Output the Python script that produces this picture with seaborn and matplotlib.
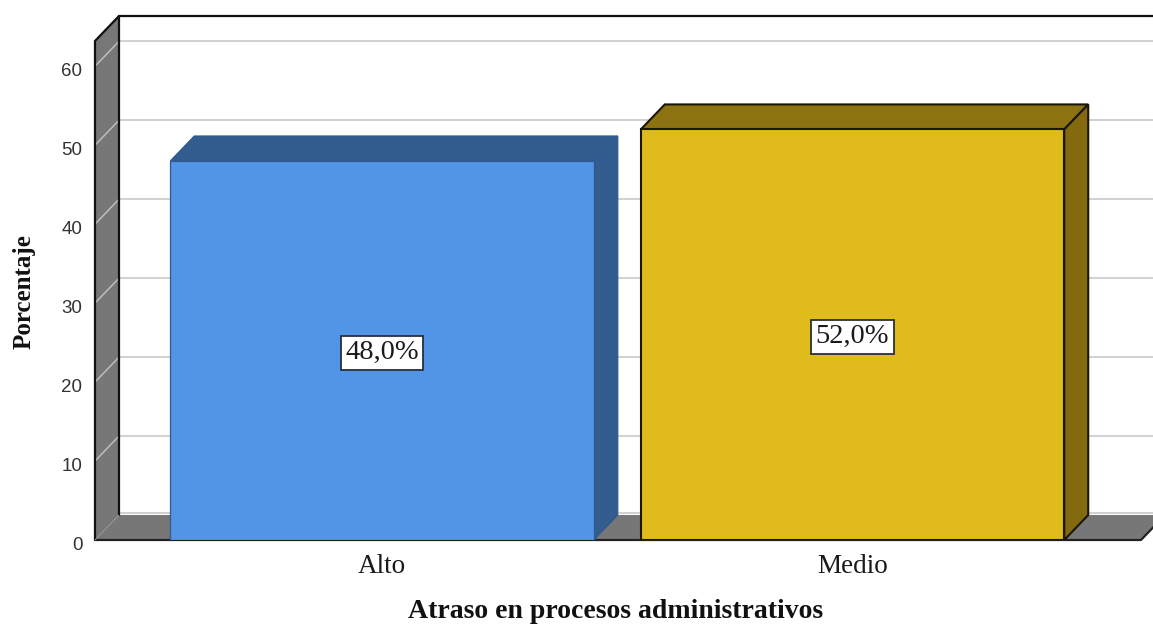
import matplotlib
matplotlib.use("Agg")
import matplotlib.pyplot as plt
from matplotlib.patches import Polygon
from matplotlib.transforms import ScaledTranslation
import pandas as pd
import seaborn as sns

categories = ["Alto", "Medio"]
percentages = [48.0, 52.0]
value_labels = ["48,0%", "52,0%"]
y_ticks = [0, 10, 20, 30, 40, 50, 60]

front_colors = ["#5294E6", "#E0BB1C"]
top_colors = ["#335C8F", "#8C7210"]
side_colors = ["#335C8F", "#836A0F"]
edge_colors = ["#2F5A90", "#1A1608"]
WALL = "#777777"
GRID = "#D2D2D2"

sns.set_theme(style="white")
plt.rcParams["font.family"] = ["Liberation Serif", "DejaVu Serif"]

W, H = 1153, 625
fig = plt.figure(figsize=(W / 100, H / 100), dpi=100, facecolor="white")
ax = fig.add_axes([95 / W, (H - 540) / H, (W - 95) / W, (540 - 16) / H])

df = pd.DataFrame({"nivel": categories, "porcentaje": percentages})
sns.barplot(data=df, x="nivel", y="porcentaje", hue="nivel", palette=front_colors,
            width=0.9, legend=False, saturation=1, ax=ax)
bars = list(ax.patches)

# Scales: 470.5 px per category, 7.9 px per percentage point
x_left = (95 - 382) / 470.5
x_right = (W - 382) / 470.5
x_floor_end = (1141 - 382) / 470.5
y_front_top = 63.2
dx = 24 / 470.5
dy = 25 / 7.9
ax.set_xlim(x_left, x_right)
ax.set_ylim(0, y_front_top + dy)


def face(points, color, edge="none", lw=0, z=1.0):
    ax.add_patch(Polygon(points, closed=True, facecolor=color, edgecolor=edge,
                         linewidth=lw, zorder=z, clip_on=False, joinstyle="miter"))


# Side wall and floor of the 3D box
face([(x_left, 0), (x_left, y_front_top), (x_left + dx, y_front_top + dy), (x_left + dx, dy)], WALL)
face([(x_left, 0), (x_left + dx, dy), (x_floor_end + dx, dy), (x_floor_end, 0)], WALL)

# Gridlines on the back wall and the side wall
for t in y_ticks[1:]:
    ax.plot([x_left + dx, x_right], [t + dy, t + dy], color=GRID, lw=1.5, zorder=0.8, clip_on=False)
    ax.plot([x_left, x_left + dx], [t, t + dy], color="#BDBDBD", lw=1.1, zorder=1.1, clip_on=False)
ax.plot([x_left + dx, x_right], [dy + 0.25, dy + 0.25], color=GRID, lw=1.5, zorder=0.9)

# Box outlines
ax.plot([x_left, x_left, x_left + dx, x_right], [0, y_front_top, y_front_top + dy, y_front_top + dy],
        color="#111111", lw=1.6, zorder=1.2, clip_on=False, solid_joinstyle="miter")
ax.plot([x_left + dx, x_left + dx], [dy, y_front_top + dy], color="#111111", lw=1.6, zorder=1.2, clip_on=False)
ax.plot([x_left, x_floor_end, x_floor_end + dx], [0, 0, dy], color="#222222", lw=1.6, zorder=1.2, clip_on=False)
ax.plot([x_left, x_left + dx], [0, dy], color="#9A9A9A", lw=0.8, ls=(0, (1.5, 1)), zorder=1.2, clip_on=False)

# Bars: seaborn draws the front faces, the top and side faces follow the same values
for i, bar in enumerate(bars):
    x0, w, v = bar.get_x(), bar.get_width(), bar.get_height()
    x1 = x0 + w
    lw = 0.9 if i == 0 else 1.5
    face([(x0, v), (x0 + dx, v + dy), (x1 + dx, v + dy), (x1, v)], top_colors[i], edge_colors[i], lw, z=2)
    face([(x1, 0), (x1 + dx, dy), (x1 + dx, v + dy), (x1, v)], side_colors[i], edge_colors[i], lw, z=2)
    bar.set_edgecolor(edge_colors[i])
    bar.set_linewidth(lw)
    bar.set_zorder(3)
    ax.annotate(value_labels[i], xy=(x0 + w / 2, v / 2), xytext=(0, -1.5), textcoords="offset points",
                ha="center", va="center", fontsize=20.5, color="#1A1A1A", zorder=4,
                bbox=dict(boxstyle="square,pad=0.16", facecolor="white", edgecolor="#26303C", linewidth=1.3))

for side in ax.spines.values():
    side.set_visible(False)
ax.grid(False)
ax.set_xticks(range(len(categories)), categories)
ax.set_yticks(y_ticks, [str(t) for t in y_ticks])
ax.tick_params(axis="x", length=0, pad=10, labelsize=19.5, labelcolor="#1A1A1A")
ax.tick_params(axis="y", length=0, pad=9, labelsize=13.5, labelcolor="#333333")
shift = ScaledTranslation(0, -3 / 100, fig.dpi_scale_trans)
for lab in ax.get_yticklabels():
    lab.set_fontfamily(["Liberation Sans", "DejaVu Sans"])
    lab.set_transform(lab.get_transform() + shift)

ax.set_xlabel("Atraso en procesos administrativos", fontsize=20, fontweight="bold", color="#111111")
ax.xaxis.set_label_coords((616 - 95) / (W - 95), -(611 - 540) / (540 - 16))
ax.xaxis.label.set_va("center")
ax.set_ylabel("Porcentaje", fontsize=18, fontweight="bold", color="#111111", rotation=90, va="center", ha="center")
ax.yaxis.set_label_coords((24 - 95) / (W - 95), (540 - 292) / (540 - 16))

fig.savefig("out.png", dpi=100, facecolor="white")
